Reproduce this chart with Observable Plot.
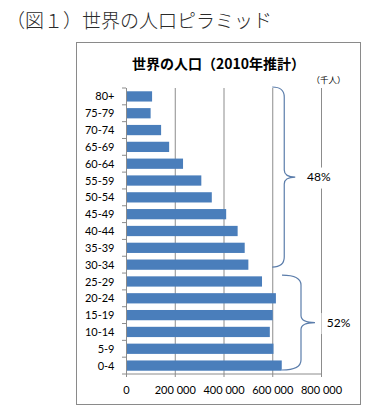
<!DOCTYPE html>
<html>
<head>
<meta charset="utf-8">
<script src="https://cdn.jsdelivr.net/npm/d3@7"></script>
<script src="https://cdn.jsdelivr.net/npm/@observablehq/plot@0.6"></script>
<style>
  html, body { margin: 0; padding: 0; background: #fff; }
  body { position: relative; width: 367px; height: 415px; overflow: hidden; font-family: Lato, "Noto Sans CJK JP", sans-serif; }
  #figure-title { position: absolute; left: 6px; top: 6px; font-family: "Noto Sans CJK JP", sans-serif; font-weight: 300; font-size: 19px; line-height: 28px; color: #2a2a2a; white-space: nowrap; }
  #box { position: absolute; left: 76px; top: 42px; width: 283px; height: 361px; border: 1px solid #8a8a8a; }
  #chart-title { position: absolute; left: 0; right: 0; top: 10px; text-align: center; font-family: "Noto Sans CJK JP", sans-serif; font-weight: bold; font-size: 14px; line-height: 20px; color: #000; white-space: nowrap; }
  #chart { position: absolute; left: 0; top: 27px; }
  #chart svg { display: block; overflow: visible; }
</style>
</head>
<body>
<div id="figure-title"></div>
<div id="box">
  <div id="chart-title"></div>
  <div id="chart"></div>
</div>
<script>
// World population by age group, 2010 estimate (thousands)
const ages = ["0-4", "5-9", "10-14", "15-19", "20-24", "25-29", "30-34", "35-39", "40-44",
              "45-49", "50-54", "55-59", "60-64", "65-69", "70-74", "75-79", "80+"];
const population = [639000, 605000, 590000, 602000, 615000, 558000, 502000, 487000, 458000,
                    411000, 352000, 309000, 234000, 177000, 144000, 101000, 107000];
const xTicks = [0, 200000, 400000, 600000, 800000];
const xTickLabels = ["0", "200 000", "400 000", "600 000", "800 000"];
// share of the total held by each bracketed span of age groups
const shareFirst = ["80+", "25-29"];
const shareLast = ["30-34", "0-4"];
const shareLabels = ["48%", "52%"];
const unitLabel = "（千人）";
const chartTitle = "世界の人口（2010年推計）";
const figureTitle = "（図１）世界の人口ピラミッド";

document.getElementById("figure-title").textContent = figureTitle;
document.getElementById("chart-title").textContent = chartTitle;

const rows = ages.map((age, i) => ({age, population: population[i]}));
const axisColor = "#8c8c8c";

const chart = Plot.plot({
  width: 282,
  height: 330,
  marginLeft: 49,
  marginRight: 38,
  marginTop: 18,
  marginBottom: 26,
  style: {fontFamily: "Lato, sans-serif", fontSize: "11px", color: "#000", background: "transparent", overflow: "visible"},
  x: {domain: [0, 800000]},
  y: {domain: ages.slice().reverse(), paddingInner: 0.39, paddingOuter: 0.195, round: false},
  marks: [
    Plot.gridX(xTicks, {stroke: axisColor, strokeOpacity: 1}),
    Plot.barX(rows, {x: "population", y: "age", fill: "#4A7EBB"}),
    Plot.ruleX([0], {stroke: axisColor}),
    Plot.axisY({tickSize: 0, tickPadding: 12, label: null, fontSize: 11}),
    Plot.axisX(xTicks, {tickSize: 3, tickPadding: 9, label: null, stroke: axisColor, fontSize: 11,
                        tickFormat: d => xTickLabels[xTicks.indexOf(d)]}),
    Plot.text([unitLabel], {text: d => d, frameAnchor: "top-right", dx: 7, dy: -8, fontSize: 8.5,
                            textAnchor: "middle", lineAnchor: "middle",
                            fontFamily: "Noto Sans CJK JP, sans-serif"})
  ]
});

document.getElementById("chart").appendChild(chart);

// Band boundary ticks, baseline, and the braces marking each share
const sx = chart.scale("x");
const sy = chart.scale("y");
const step = sy.step;
const bandTop = a => sy.apply(a) - (step - sy.bandwidth) / 2;
const svg = d3.select(chart);
const x0 = sx.apply(0);
const xEnd = sx.apply(800000);
const bottom = bandTop(ages[0]) + step;

const boundaries = ages.slice().reverse().map(bandTop).concat([bottom]);
svg.append("g")
  .attr("stroke", axisColor)
  .selectAll("line")
  .data(boundaries)
  .join("line")
  .attr("x1", x0 - 4).attr("x2", x0)
  .attr("y1", d => d).attr("y2", d => d);

svg.append("line")
  .attr("stroke", axisColor)
  .attr("x1", x0).attr("x2", xEnd)
  .attr("y1", bottom).attr("y2", bottom);

const braceLayout = [
  {anchor: 600000, spine: 12, tip: 23, inset: [-1, 6]},
  {anchor: 640000, spine: 19, tip: 33, inset: [2, 4]}
];

shareLabels.forEach((label, i) => {
  const L = braceLayout[i];
  const xe = sx.apply(L.anchor);
  const xs = xe + L.spine;
  const xt = xe + L.tip;
  const y0 = bandTop(shareFirst[i]) + L.inset[0];
  const y1 = bandTop(shareLast[i]) + step - L.inset[1];
  const ym = (y0 + y1) / 2;
  const r = 10, r2 = 7;
  const path = `M${xe},${y0} Q${xs},${y0} ${xs},${y0 + r} L${xs},${ym - r2} Q${xs},${ym} ${xt},${ym}` +
               ` Q${xs},${ym} ${xs},${ym + r2} L${xs},${y1 - r} Q${xs},${y1} ${xe},${y1}`;
  svg.append("path")
    .attr("d", path)
    .attr("fill", "none")
    .attr("stroke", "#5b7dab")
    .attr("stroke-width", 1.2);
  const cx = xt + 23.5;
  svg.append("rect")
    .attr("x", cx - 17).attr("y", ym - 9.5)
    .attr("width", 34).attr("height", 21)
    .attr("fill", "#fff");
  svg.append("text")
    .attr("x", cx).attr("y", ym)
    .attr("dy", "0.36em")
    .attr("text-anchor", "middle")
    .attr("font-family", "Lato, sans-serif")
    .attr("font-size", 12)
    .attr("fill", "#000")
    .text(label);
});
</script>
</body>
</html>
